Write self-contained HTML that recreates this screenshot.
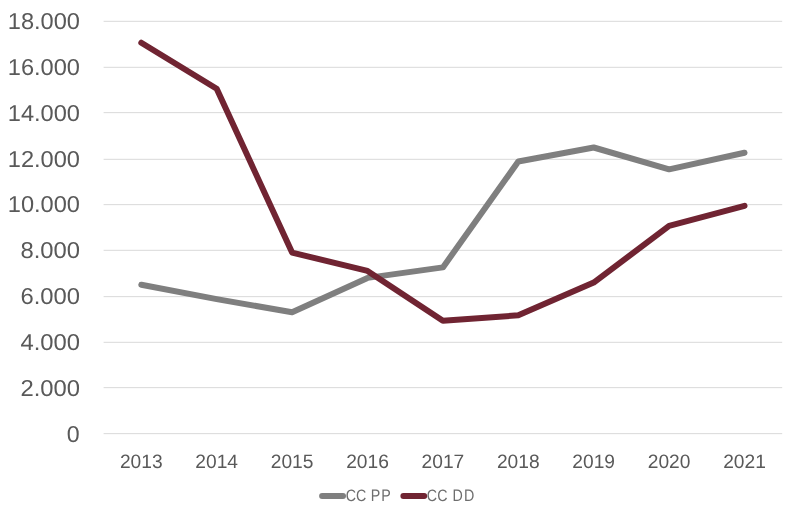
<!DOCTYPE html>
<html lang="en"><head><meta charset="utf-8"><title>CC PP / CC DD</title>
<style>
html,body{margin:0;padding:0;background:#fff;}
body{width:785px;height:518px;overflow:hidden;}
svg{display:block;will-change:transform;}
text{font-family:"Liberation Sans",sans-serif;text-rendering:geometricPrecision;}
.yl{font-size:23.0px;fill:#595959;text-anchor:end;}
.xl{font-size:19.4px;fill:#595959;text-anchor:middle;}
.lg{font-size:16.6px;fill:#6e6e6e;}
</style></head><body>
<svg width="785" height="518" viewBox="0 0 785 518">
<rect width="785" height="518" fill="#ffffff"/>
<g stroke="#d9d9d9" stroke-width="1" fill="none">
<line x1="103.6" x2="782.2" y1="433.65" y2="433.65"/>
<line x1="103.6" x2="782.2" y1="387.65" y2="387.65"/>
<line x1="103.6" x2="782.2" y1="342.30" y2="342.30"/>
<line x1="103.6" x2="782.2" y1="296.65" y2="296.65"/>
<line x1="103.6" x2="782.2" y1="250.30" y2="250.30"/>
<line x1="103.6" x2="782.2" y1="204.65" y2="204.65"/>
<line x1="103.6" x2="782.2" y1="159.30" y2="159.30"/>
<line x1="103.6" x2="782.2" y1="112.65" y2="112.65"/>
<line x1="103.6" x2="782.2" y1="67.30" y2="67.30"/>
<line x1="103.6" x2="782.2" y1="21.30" y2="21.30"/>
</g>
<g>
<text class="yl" x="79.6" y="441.95" textLength="12.9" lengthAdjust="spacingAndGlyphs">0</text>
<text class="yl" x="80.0" y="395.95" textLength="59.6" lengthAdjust="spacingAndGlyphs">2.000</text>
<text class="yl" x="80.0" y="350.10" textLength="59.6" lengthAdjust="spacingAndGlyphs">4.000</text>
<text class="yl" x="80.0" y="304.15" textLength="59.6" lengthAdjust="spacingAndGlyphs">6.000</text>
<text class="yl" x="80.0" y="258.40" textLength="59.6" lengthAdjust="spacingAndGlyphs">8.000</text>
<text class="yl" x="80.0" y="212.15" textLength="72.2" lengthAdjust="spacingAndGlyphs">10.000</text>
<text class="yl" x="80.0" y="166.80" textLength="72.2" lengthAdjust="spacingAndGlyphs">12.000</text>
<text class="yl" x="80.0" y="120.75" textLength="72.2" lengthAdjust="spacingAndGlyphs">14.000</text>
<text class="yl" x="80.0" y="74.80" textLength="72.2" lengthAdjust="spacingAndGlyphs">16.000</text>
<text class="yl" x="80.0" y="28.80" textLength="72.2" lengthAdjust="spacingAndGlyphs">18.000</text>
</g><g>
<text class="xl" x="141.30" y="467.7" textLength="42.7" lengthAdjust="spacingAndGlyphs">2013</text>
<text class="xl" x="216.70" y="467.7" textLength="42.7" lengthAdjust="spacingAndGlyphs">2014</text>
<text class="xl" x="292.10" y="467.7" textLength="42.7" lengthAdjust="spacingAndGlyphs">2015</text>
<text class="xl" x="367.50" y="467.7" textLength="42.7" lengthAdjust="spacingAndGlyphs">2016</text>
<text class="xl" x="442.90" y="467.7" textLength="42.7" lengthAdjust="spacingAndGlyphs">2017</text>
<text class="xl" x="518.30" y="467.7" textLength="42.7" lengthAdjust="spacingAndGlyphs">2018</text>
<text class="xl" x="593.70" y="467.7" textLength="42.7" lengthAdjust="spacingAndGlyphs">2019</text>
<text class="xl" x="669.10" y="467.7" textLength="42.7" lengthAdjust="spacingAndGlyphs">2020</text>
<text class="xl" x="744.50" y="467.7" textLength="42.7" lengthAdjust="spacingAndGlyphs">2021</text>
</g>
<polyline points="141.30,284.75 216.70,299.10 292.10,312.20 367.50,277.90 442.90,267.40 518.30,161.50 593.70,147.50 669.10,169.35 744.50,152.70" fill="none" stroke="#7f7f7f" stroke-width="6" stroke-linecap="round" stroke-linejoin="round"/>
<polyline points="141.30,42.70 216.70,88.80 292.10,252.60 367.50,270.90 442.90,320.65 518.30,315.30 593.70,282.60 669.10,225.90 744.50,205.80" fill="none" stroke="#702432" stroke-width="6" stroke-linecap="round" stroke-linejoin="round"/>
<g>
<line x1="322.1" x2="343.0" y1="496.0" y2="496.0" stroke="#7f7f7f" stroke-width="6" stroke-linecap="round"/>
<text class="lg" transform="scale(0.86,1)" x="401.92 414.02 426.00 431.02 443.29" y="501.0">CC PP</text>
<line x1="403.4" x2="424.2" y1="496.0" y2="496.0" stroke="#702432" stroke-width="6" stroke-linecap="round"/>
<text class="lg" transform="scale(0.86,1)" x="496.11 508.55 520.54 526.05 539.65" y="501.0">CC DD</text>
</g>
</svg>
</body></html>
